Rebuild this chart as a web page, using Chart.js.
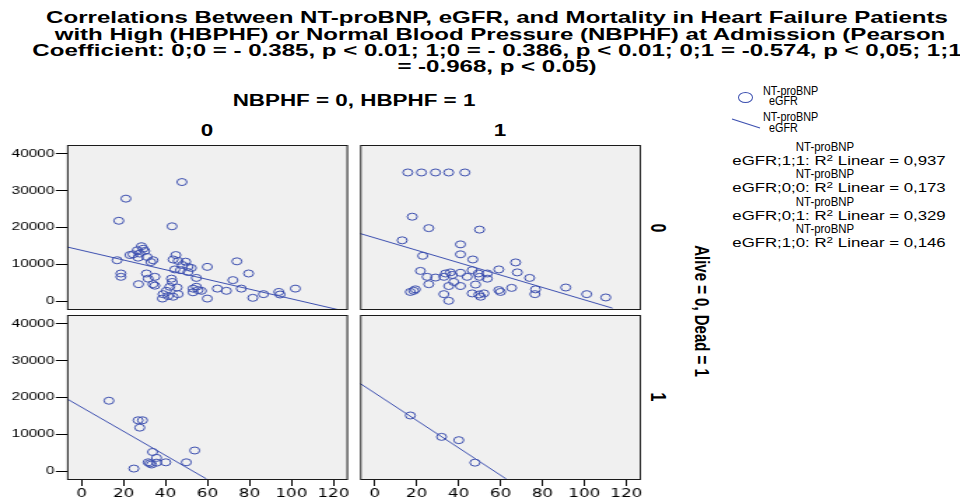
<!DOCTYPE html>
<html>
<head>
<meta charset="utf-8">
<script src="https://cdn.jsdelivr.net/npm/chart.js@4.4.1/dist/chart.umd.min.js"></script>
<style>
  body { margin: 0; width: 960px; height: 501px; overflow: hidden; position: relative; background: #fff;
         font-family: "Liberation Sans", Arial, sans-serif; color: #000; }
  canvas { position: absolute; transform-origin: 0 0; transform: scaleX(1.4); }
  .c, .l { position: absolute; white-space: nowrap; line-height: 1; }
  .c { transform: translate(-50%, -50%) scaleX(1.4); }
  .l { transform: translateY(-50%) scaleX(1.4); transform-origin: 0 50%; }
  .b { font-weight: bold; }
  .ttl { transform: translate(-50%, -50%) scaleX(1.415); }
  .rot { position: absolute; white-space: nowrap; line-height: 1; font-weight: bold;
         transform: translate(-50%, -50%) scaleX(1.4) rotate(90deg); }
  sup { font-size: 70%; vertical-align: 0.45em; line-height: 0; }
</style>
</head>
<body>
<div class="c b ttl" style="left:497px;top:17px;font-size:17px">Correlations Between NT-proBNP, eGFR, and Mortality in Heart Failure Patients</div>
<div class="c b ttl" style="left:500px;top:34px;font-size:17px">with High (HBPHF) or Normal Blood Pressure (NBPHF) at Admission (Pearson</div>
<div class="c b ttl" style="left:497px;top:50px;font-size:17px">Coefficient: 0;0 = - 0.385, p &lt; 0.01; 1;0 = - 0.386, p &lt; 0.01; 0;1 = -0.574, p &lt; 0,05; 1;1</div>
<div class="c b ttl" style="left:497px;top:66px;font-size:17px">= -0.968, p &lt; 0.05)</div>

<div class="c b" style="left:354px;top:101px;font-size:16px">NBPHF = 0, HBPHF = 1</div>
<div class="c b" style="left:207px;top:131px;font-size:16px">0</div>
<div class="c b" style="left:500px;top:131px;font-size:16px">1</div>

<div class="rot" style="left:658px;top:228px;font-size:16px">0</div>
<div class="rot" style="left:658px;top:397px;font-size:16px">1</div>
<div class="rot" style="left:703px;top:311px;font-size:15px">Alive = 0, Dead = 1</div>

<!-- legend -->
<div style="position:absolute;left:738px;top:92px;width:13px;height:9px;border:1.3px solid #3d50b0;border-radius:50%"></div>
<svg style="position:absolute;left:0;top:0" width="960" height="501"><line x1="732" y1="119" x2="760" y2="128" stroke="#3d50b0" stroke-width="1.2"/></svg>
<div class="l" style="left:763px;top:91px;font-size:12px;transform:translateY(-50%) scaleX(0.9)">NT-proBNP</div>
<div class="l" style="left:769px;top:101px;font-size:12px;transform:translateY(-50%) scaleX(0.9)">eGFR</div>
<div class="l" style="left:763px;top:117px;font-size:12px;transform:translateY(-50%) scaleX(0.9)">NT-proBNP</div>
<div class="l" style="left:769px;top:128px;font-size:12px;transform:translateY(-50%) scaleX(0.9)">eGFR</div>

<div class="c" style="left:825px;top:147px;font-size:12px;transform:translate(-50%,-50%) scaleX(0.95)">NT-proBNP</div>
<div class="c" style="left:839px;top:161px;font-size:12px">eGFR;1;1: R<sup>2</sup> Linear = 0,937</div>
<div class="c" style="left:825px;top:174px;font-size:12px;transform:translate(-50%,-50%) scaleX(0.95)">NT-proBNP</div>
<div class="c" style="left:839px;top:188px;font-size:12px">eGFR;0;0: R<sup>2</sup> Linear = 0,173</div>
<div class="c" style="left:825px;top:202px;font-size:12px;transform:translate(-50%,-50%) scaleX(0.95)">NT-proBNP</div>
<div class="c" style="left:839px;top:216px;font-size:12px">eGFR;0;1: R<sup>2</sup> Linear = 0,329</div>
<div class="c" style="left:825px;top:229px;font-size:12px;transform:translate(-50%,-50%) scaleX(0.95)">NT-proBNP</div>
<div class="c" style="left:839px;top:243px;font-size:12px">eGFR;1;0: R<sup>2</sup> Linear = 0,146</div>

<canvas id="tl"></canvas>
<canvas id="tr"></canvas>
<canvas id="bl"></canvas>
<canvas id="br"></canvas>

<script>
// Alive = 0 / Dead = 1 (rows) x NBPHF = 0, HBPHF = 1 (columns)
// x = eGFR, y = NT-proBNP

// row 0, col 0
const egfrTL = [47.8, 21.1, 17.7, 43.1, 28.5, 26.5, 30.1, 27.7, 26.9, 31.2, 23, 34, 16.9, 44.9, 43.6, 46, 49.6, 48,
  52.3, 44.4, 47.1, 50.7, 59.9, 74, 79.6, 72.1, 76.1, 54.7, 18.7, 18.7, 30.9, 34.9, 31.7, 27.1, 34, 34.9, 42.8,
  43.2, 42, 40.4, 38.8, 38.5, 41.2, 45.5, 46, 43.6, 53.1, 54.7, 57.1, 59.9, 64.7, 69, 81.6, 86.7, 94, 94.6, 101.9,
  29.3, 24.5, 33, 50.7, 53.1, 55.5];
const bnpTL = [32300, 27800, 21800, 20300, 14900, 13800, 13600, 12900, 11800, 12000, 12500, 11100, 11100, 12500,
  11300, 10900, 10700, 9800, 9000, 8600, 8400, 7900, 9300, 10800, 7500, 5700, 3400, 6300, 7500, 6600, 7500, 6600,
  6100, 4600, 4600, 4200, 6100, 5200, 3900, 2800, 1900, 700, 1400, 3700, 1900, 1200, 2400, 3900, 2800, 700, 3400,
  2800, 900, 1900, 2500, 1800, 3400, 14200, 12700, 10600, 9300, 3400, 3000];

// row 0, col 1
const egfrTR = [15.8, 22.3, 29, 35.3, 43, 17.9, 25.8, 50, 13.1, 40.9, 40.9, 22.9, 46.8, 67.2, 21.8, 25, 29, 33.8,
  36.1, 33, 37, 40.9, 44.1, 46.5, 49.4, 50, 53.7, 53.7, 59.2, 68, 73.9, 25.8, 35.3, 37.7, 40.9, 48.1, 17, 19.4,
  18.6, 33, 35.3, 46.5, 50.5, 52.1, 49.7, 59.2, 60, 65.3, 76.7, 76.4, 91.1, 101.1, 110.2];
const bnpTR = [34900, 34900, 34900, 34900, 34900, 22900, 19800, 19400, 16500, 15400, 12700, 12300, 11300, 10500,
  8200, 6600, 6400, 7500, 7800, 6600, 7100, 7700, 6600, 8400, 7500, 6600, 7500, 6100, 8600, 7800, 6300, 4600,
  4100, 5200, 4100, 4500, 2500, 3200, 2800, 1900, 100, 2100, 1200, 2100, 1800, 3000, 2500, 3600, 3200, 1900,
  3700, 1900, 1000];

// row 1, col 0
const egfrBL = [13, 26.9, 29, 27.7, 33.8, 35.7, 31.7, 33.3, 35.7, 32.5, 40.1, 49.9, 53.9, 24.9];
const bnpBL = [19100, 13800, 13800, 11800, 5200, 3600, 2400, 1800, 2300, 2100, 2400, 2400, 5600, 700];

// row 1, col 1
const egfrBR = [17, 31.9, 40.1, 47.8];
const bnpBR = [15100, 9300, 8400, 2300];

// linear fit lines, end points read where they meet the frame
const fitTL = [[-7, 14700], [123, -2400]];
const fitTR = [[-7, 18350], [113.4, -1900]];
const fitBL = [[-7, 19600], [59.5, -2100]];
const fitBR = [[-7, 23800], [62.7, -2100]];

const xTicks = [0, 20, 40, 60, 80, 100, 120];
const yTicks = [0, 10000, 20000, 30000, 40000];

const S = 1.4;           // the picture is stretched sideways
const BLUE = '#3d50b0';

const panelFrame = {
  id: 'panelFrame',
  beforeDraw(chart) {
    const { ctx, chartArea: a } = chart;
    ctx.save();
    ctx.fillStyle = '#f0f0f0';
    ctx.fillRect(a.left, a.top, a.width, a.height);
    ctx.restore();
  },
  afterDraw(chart) {
    const { ctx, chartArea: a } = chart;
    ctx.save();
    ctx.strokeStyle = '#1a1a1a';
    ctx.lineWidth = 1;
    ctx.strokeRect(a.left + 0.5, a.top + 0.5, a.width - 1, a.height - 1);
    ctx.restore();
  }
};

Chart.defaults.font.family = '"Liberation Sans", Arial, sans-serif';
Chart.defaults.color = '#000';

// box: canvas position on the page + internal size, area: wanted plot frame on the page
// the left / bottom gaps are taken by the (possibly hidden) scales through afterFit
function addPanel(id, box, area, xs, ys, fit, showX, showY) {
  const cv = document.getElementById(id);
  cv.width = box.w;
  cv.height = box.h;
  cv.style.left = box.x + 'px';
  cv.style.top = box.y + 'px';
  const left = (area.x0 - box.x) / S;
  const right = box.w - (area.x1 - box.x) / S;
  const top = area.y0 - box.y;
  const bottom = box.h - (area.y1 - box.y);

  new Chart(cv, {
    type: 'scatter',
    data: {
      datasets: [
        {
          data: xs.map((x, i) => ({ x, y: ys[i] })),
          pointStyle: 'circle',
          pointRadius: 3.5,
          borderWidth: 1,
          borderColor: BLUE,
          backgroundColor: 'rgba(0,0,0,0)'
        },
        {
          data: fit.map(p => ({ x: p[0], y: p[1] })),
          showLine: true,
          pointRadius: 0,
          borderWidth: 1,
          borderColor: BLUE
        }
      ]
    },
    options: {
      responsive: false,
      animation: false,
      events: [],
      layout: { autoPadding: false, padding: { left: 0, right, top, bottom: 0 } },
      plugins: { legend: { display: false }, tooltip: { enabled: false } },
      scales: {
        x: {
          type: 'linear', min: -7, max: 127, display: showX,
          afterBuildTicks: s => { s.ticks = xTicks.map(v => ({ value: v })); },
          afterFit: s => { s.height = bottom; s.paddingLeft = 0; s.paddingRight = 0; },
          grid: { drawOnChartArea: false, drawTicks: true, tickLength: 6, color: '#000' },
          border: { display: false },
          ticks: { font: { family: '"DejaVu Sans"', size: 12 }, padding: 1, maxRotation: 0, callback: v => String(v) }
        },
        y: {
          type: 'linear', min: -2400, max: 42350, display: showY,
          afterBuildTicks: s => { s.ticks = yTicks.map(v => ({ value: v })); },
          afterFit: s => { s.width = left; s.paddingTop = 0; s.paddingBottom = 0; },
          grid: { drawOnChartArea: false, drawTicks: true, tickLength: 8, color: '#000' },
          border: { display: false },
          ticks: { font: { size: 11 }, padding: 1, callback: v => String(v) }
        }
      }
    },
    plugins: [panelFrame]
  });
}

addPanel('tl', { x: 0, y: 140, w: 252, h: 172 }, { x0: 67, x1: 348, y0: 145, y1: 310 }, egfrTL, bnpTL, fitTL, false, true);
addPanel('tr', { x: 354, y: 140, w: 209, h: 172 }, { x0: 360, x1: 641, y0: 145, y1: 310 }, egfrTR, bnpTR, fitTR, false, false);
addPanel('bl', { x: 0, y: 312, w: 252, h: 189 }, { x0: 67, x1: 348, y0: 315, y1: 480 }, egfrBL, bnpBL, fitBL, true, true);
addPanel('br', { x: 354, y: 312, w: 209, h: 189 }, { x0: 360, x1: 641, y0: 315, y1: 480 }, egfrBR, bnpBR, fitBR, true, false);
</script>
</body>
</html>
